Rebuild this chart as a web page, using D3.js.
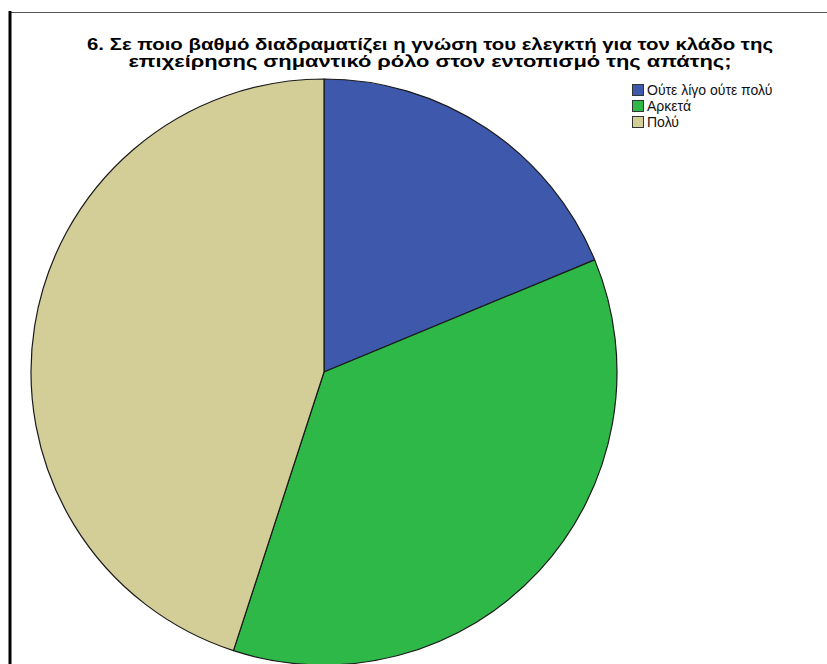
<!DOCTYPE html>
<html>
<head>
<meta charset="utf-8">
<script src="https://cdn.jsdelivr.net/npm/d3@7"></script>
<style>
  html, body { margin: 0; padding: 0; background: #fff; }
  svg { display: block; }
</style>
</head>
<body>
<svg id="chart" width="827" height="664"></svg>
<script>
// Responses (counts) per answer category
const categories = ["Ούτε λίγο ούτε πολύ", "Αρκετά", "Πολύ"];
const counts = [15, 29, 36];
const colors = ["#3e58ac", "#2eb848", "#d3ce97"];
const titleLines = [
  "6. Σε ποιο βαθμό διαδραματίζει η γνώση του ελεγκτή για τον κλάδο της",
  "επιχείρησης σημαντικό ρόλο στον εντοπισμό της απάτης;"
];
const titleWidths = [686, 603];

const svg = d3.select("#chart");
const font = "'Liberation Sans', Arial, sans-serif";

// Frame
svg.append("line").attr("x1", 9).attr("y1", 12.5).attr("x2", 827).attr("y2", 12.5)
  .attr("stroke", "#555").attr("stroke-width", 1);
svg.append("line").attr("x1", 10).attr("y1", 11).attr("x2", 10).attr("y2", 664)
  .attr("stroke", "#000").attr("stroke-width", 3);

// Title (two centred lines, widened to the title block width)
svg.append("g").selectAll("text").data(titleLines).join("text")
  .attr("x", 430).attr("y", (d, i) => 50 + i * 17)
  .attr("text-anchor", "middle")
  .attr("textLength", (d, i) => titleWidths[i])
  .attr("lengthAdjust", "spacingAndGlyphs")
  .style("font-family", font).style("font-weight", "bold").style("font-size", "16.5px")
  .text(d => d);

// Pie
const cx = 324, cy = 372, r = 293;
const color = d3.scaleOrdinal().domain(categories).range(colors);
const pie = d3.pie().sort(null).value(d => d.value);
const arc = d3.arc().innerRadius(0).outerRadius(r);
const data = categories.map((c, i) => ({ cat: c, value: counts[i] }));

svg.append("g").attr("transform", `translate(${cx},${cy})`)
  .selectAll("path").data(pie(data)).join("path")
  .attr("d", arc)
  .attr("fill", d => color(d.data.cat))
  .attr("stroke", "#1a1a1a").attr("stroke-width", 1.2)
  .attr("stroke-linejoin", "round");

// Legend
const legend = svg.append("g").attr("transform", "translate(632,84)");
const item = legend.selectAll("g").data(categories).join("g")
  .attr("transform", (d, i) => `translate(0,${i * 16})`);
item.append("rect").attr("x", 0.5).attr("y", 0.5).attr("width", 11).attr("height", 11)
  .attr("fill", d => color(d)).attr("stroke", "#333").attr("stroke-width", 1);
item.append("text").attr("x", 15).attr("y", 11)
  .style("font-family", font).style("font-size", "14px").attr("fill", "#111")
  .text(d => d);
</script>
</body>
</html>
